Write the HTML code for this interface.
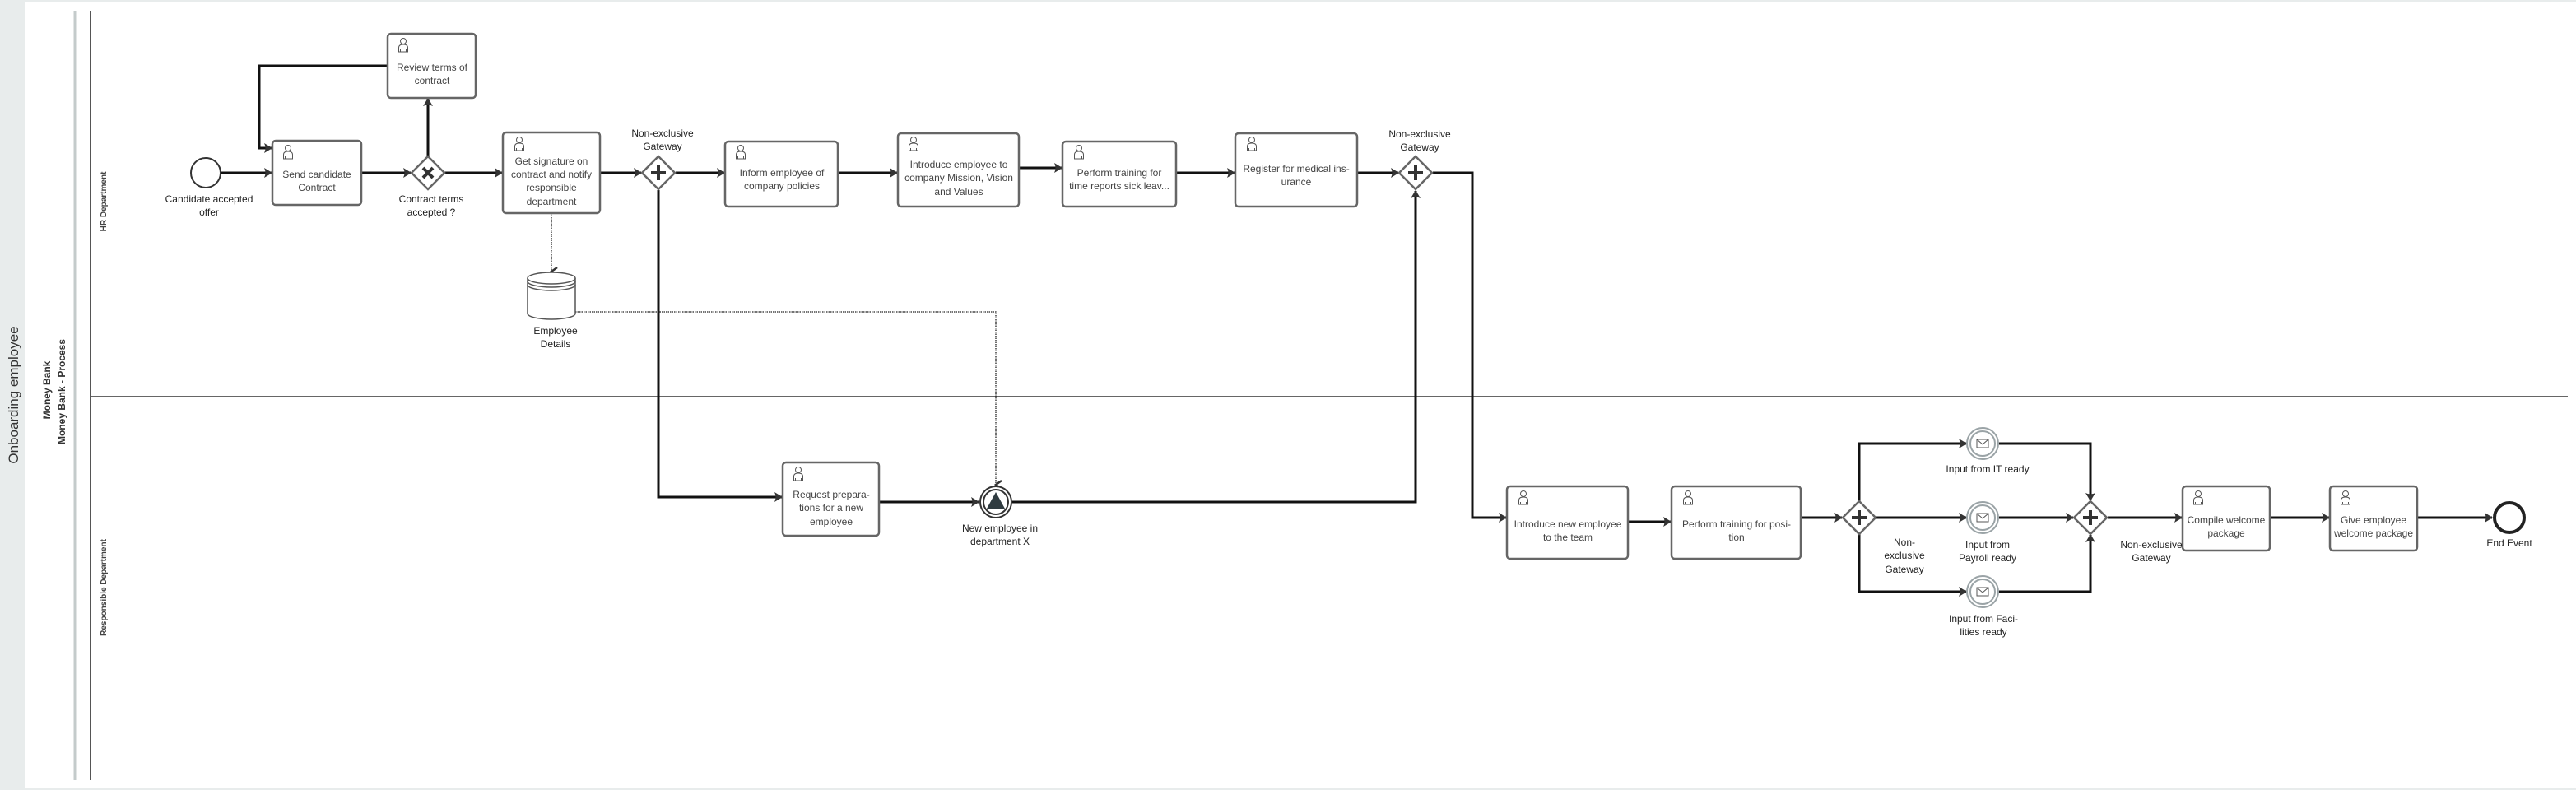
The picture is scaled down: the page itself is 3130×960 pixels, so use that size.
<!DOCTYPE html>
<html><head><meta charset="utf-8"><style>
html,body{margin:0;padding:0;background:#e8ecec;}
svg{display:block;}
text{font-family:"Liberation Sans Narrow","Liberation Sans",sans-serif;font-size:12px;fill:#222;}
.t{fill:#444;}
</style></head><body>
<svg width="3130" height="960" viewBox="0 0 3130 960" xmlns="http://www.w3.org/2000/svg">
<defs>
<marker id="a" markerWidth="10" markerHeight="12" refX="9" refY="6" orient="auto" markerUnits="userSpaceOnUse">
<path d="M0,0 L10,6 L0,12 Q3,6 0,0Z" fill="#333"/></marker>
<marker id="d" markerWidth="12" markerHeight="10" refX="6" refY="8" orient="auto" markerUnits="userSpaceOnUse">
<path d="M1,1 L6,8 L11,1" fill="none" stroke="#333" stroke-width="2.5"/></marker>
<g id="u"><circle cx="6" cy="4" r="3.5" fill="#fff" stroke="#555" stroke-width="1"/><path d="M0.5,17 V12 Q0.5,8 6,8 Q11.5,8 11.5,12 V17 Z M2.5,14 V17 M9.5,14 V17" fill="#fff" stroke="#555" stroke-width="1"/></g>
</defs>
<rect x="30" y="3" width="3100" height="954" fill="#fff"/>
<text transform="translate(22,480) rotate(-90)" text-anchor="middle" style="font-family:'Liberation Sans',sans-serif;font-size:17px;fill:#333">Onboarding employee</text>
<text transform="translate(61,474) rotate(-90)" text-anchor="middle" style="font-family:'Liberation Sans',sans-serif;font-size:12px;font-weight:bold;fill:#333">Money Bank</text>
<text transform="translate(79,476) rotate(-90)" text-anchor="middle" style="font-family:'Liberation Sans',sans-serif;font-size:12px;font-weight:bold;fill:#333">Money Bank - Process</text>
<text transform="translate(129,245) rotate(-90)" text-anchor="middle" style="font-family:'Liberation Sans',sans-serif;font-size:10px;font-weight:bold;fill:#444">HR Department</text>
<text transform="translate(129,714) rotate(-90)" text-anchor="middle" style="font-family:'Liberation Sans',sans-serif;font-size:10px;font-weight:bold;fill:#444">Responsible Department</text>
<line x1="91" y1="13" x2="91" y2="948" stroke="#c4cbcb" stroke-width="3"/>
<line x1="110" y1="13" x2="110" y2="948" stroke="#555" stroke-width="2"/>
<line x1="110" y1="482" x2="3120" y2="482" stroke="#666" stroke-width="2"/>

<g fill="none" stroke="#111" stroke-width="3">
<path d="M269,210 H330" marker-end="url(#a)"/>
<path d="M439,210 H499" marker-end="url(#a)"/>
<path d="M520,190 V120" marker-end="url(#a)"/>
<path d="M471,80 H315 V180 H330" marker-end="url(#a)"/>
<path d="M540,210 H610" marker-end="url(#a)"/>
<path d="M729,210 H779" marker-end="url(#a)"/>
<path d="M821,210 H880" marker-end="url(#a)"/>
<path d="M1018,210 H1090" marker-end="url(#a)"/>
<path d="M1238,204 H1290" marker-end="url(#a)"/>
<path d="M1429,210 H1500" marker-end="url(#a)"/>
<path d="M1649,210 H1699" marker-end="url(#a)"/>
<path d="M800,231 V604 H950" marker-end="url(#a)"/>
<path d="M1068,610 H1189" marker-end="url(#a)"/>
<path d="M1230,610 H1720 V232" marker-end="url(#a)"/>
<path d="M1741,210 H1789 V629 H1830" marker-end="url(#a)"/>
<path d="M1978,634 H2030" marker-end="url(#a)"/>
<path d="M2188,629 H2238" marker-end="url(#a)"/>
<path d="M2259,609 V539 H2389" marker-end="url(#a)"/>
<path d="M2280,629 H2389" marker-end="url(#a)"/>
<path d="M2259,649 V719 H2389" marker-end="url(#a)"/>
<path d="M2429,539 H2540 V608" marker-end="url(#a)"/>
<path d="M2429,629 H2519" marker-end="url(#a)"/>
<path d="M2429,719 H2540 V650" marker-end="url(#a)"/>
<path d="M2561,629 H2651" marker-end="url(#a)"/>
<path d="M2758,629 H2830" marker-end="url(#a)"/>
<path d="M2937,629 H3028" marker-end="url(#a)"/>
</g>
<g fill="none" stroke="#222" stroke-width="1.3" stroke-dasharray="1.5,1">
<path d="M670,259 V330" marker-end="url(#d)"/>
<path d="M699,379 H1210 V589" marker-end="url(#d)"/>
</g>

<g fill="#fff" stroke="#666" stroke-width="2.5">
<rect x="331" y="171" width="108" height="78" rx="4"/>
<rect x="471" y="41" width="107" height="78" rx="4"/>
<rect x="611" y="161" width="118" height="98" rx="4"/>
<rect x="881" y="172" width="137" height="79" rx="4"/>
<rect x="1091" y="162" width="147" height="89" rx="4"/>
<rect x="1291" y="172" width="138" height="79" rx="4"/>
<rect x="1501" y="162" width="148" height="89" rx="4"/>
<rect x="951" y="562" width="117" height="89" rx="4"/>
<rect x="1831" y="591" width="147" height="88" rx="4"/>
<rect x="2031" y="591" width="157" height="88" rx="4"/>
<rect x="2652" y="591" width="106" height="78" rx="4"/>
<rect x="2831" y="591" width="106" height="78" rx="4"/>
</g>
<use href="#u" x="344" y="176"/><use href="#u" x="484" y="46"/><use href="#u" x="625" y="166"/>
<use href="#u" x="894" y="176"/><use href="#u" x="1104" y="166"/><use href="#u" x="1305" y="176"/>
<use href="#u" x="1515" y="166"/><use href="#u" x="964" y="567"/><use href="#u" x="1845" y="596"/>
<use href="#u" x="2045" y="596"/><use href="#u" x="2665" y="596"/><use href="#u" x="2844" y="596"/>

<g text-anchor="middle" class="t">
<text class="t" x="385" y="216">Send candidate</text><text class="t" x="385" y="232">Contract</text>
<text class="t" x="525" y="86">Review terms of</text><text class="t" x="525" y="102">contract</text>
<text class="t" x="670" y="200">Get signature on</text><text class="t" x="670" y="216">contract and notify</text><text class="t" x="670" y="232">responsible</text><text class="t" x="670" y="249">department</text>
<text class="t" x="950" y="214">Inform employee of</text><text class="t" x="950" y="230">company policies</text>
<text class="t" x="1165" y="204">Introduce employee to</text><text class="t" x="1165" y="220">company Mission, Vision</text><text class="t" x="1165" y="237">and Values</text>
<text class="t" x="1360" y="214">Perform training for</text><text class="t" x="1360" y="230">time reports sick leav...</text>
<text class="t" x="1575" y="209">Register for medical ins-</text><text class="t" x="1575" y="225">urance</text>
<text class="t" x="1010" y="605">Request prepara-</text><text class="t" x="1010" y="621">tions for a new</text><text class="t" x="1010" y="638">employee</text>
<text class="t" x="1905" y="641">Introduce new employee</text><text class="t" x="1905" y="657">to the team</text>
<text class="t" x="2110" y="641">Perform training for posi-</text><text class="t" x="2110" y="657">tion</text>
<text class="t" x="2705" y="636">Compile welcome</text><text class="t" x="2705" y="652">package</text>
<text class="t" x="2884" y="636">Give employee</text><text class="t" x="2884" y="652">welcome package</text>
</g>

<circle cx="250" cy="210" r="18" fill="#fff" stroke="#333" stroke-width="2"/>
<circle cx="1210" cy="610" r="19" fill="#fff" stroke="#333" stroke-width="2"/>
<circle cx="1210" cy="610" r="15" fill="#fff" stroke="#333" stroke-width="2"/>
<path d="M1210,598 L1221,618 H1199 Z" fill="#2f3b40"/>
<g>
<circle cx="2409" cy="539" r="19" fill="#fff" stroke="#9aa3a6" stroke-width="2"/><circle cx="2409" cy="539" r="15" fill="#fff" stroke="#9aa3a6" stroke-width="2"/>
<rect x="2402" y="534" width="14" height="10" fill="#fff" stroke="#555" stroke-width="1"/><path d="M2402,534 L2409,540 L2416,534" fill="none" stroke="#555" stroke-width="1"/>
<circle cx="2409" cy="629" r="19" fill="#fff" stroke="#9aa3a6" stroke-width="2"/><circle cx="2409" cy="629" r="15" fill="#fff" stroke="#9aa3a6" stroke-width="2"/>
<rect x="2402" y="624" width="14" height="10" fill="#fff" stroke="#555" stroke-width="1"/><path d="M2402,624 L2409,630 L2416,624" fill="none" stroke="#555" stroke-width="1"/>
<circle cx="2409" cy="719" r="19" fill="#fff" stroke="#9aa3a6" stroke-width="2"/><circle cx="2409" cy="719" r="15" fill="#fff" stroke="#9aa3a6" stroke-width="2"/>
<rect x="2402" y="714" width="14" height="10" fill="#fff" stroke="#555" stroke-width="1"/><path d="M2402,714 L2409,720 L2416,714" fill="none" stroke="#555" stroke-width="1"/>
</g>
<circle cx="3049" cy="629" r="18" fill="#fff" stroke="#222" stroke-width="4"/>

<g fill="#fff" stroke="#666" stroke-width="2.5">
<path d="M520,190 L540,210 L520,230 L500,210Z"/>
<path d="M800,190 L820,210 L800,230 L780,210Z"/>
<path d="M1720,190 L1740,210 L1720,230 L1700,210Z"/>
<path d="M2259,609 L2279,629 L2259,649 L2239,629Z"/>
<path d="M2540,609 L2560,629 L2540,649 L2520,629Z"/>
</g>
<g stroke="#333" stroke-width="4">
<path d="M514,204 L526,216 M526,204 L514,216"/>
<path d="M800,201 V219 M791,210 H809"/>
<path d="M1720,201 V219 M1711,210 H1729"/>
<path d="M2259,620 V638 M2250,629 H2268"/>
<path d="M2540,620 V638 M2531,629 H2549"/>
</g>

<g fill="#fff" stroke="#555" stroke-width="1.5">
<path d="M641,338 V381 A29,7 0 0 0 699,381 V338"/>
<ellipse cx="670" cy="338" rx="29" ry="7"/>
<path d="M641,342 A29,7 0 0 0 699,342 M641,346 A29,7 0 0 0 699,346" fill="none"/>
</g>

<g text-anchor="middle">
<text x="254" y="246">Candidate accepted</text><text x="254" y="262">offer</text>
<text x="524" y="246">Contract terms</text><text x="524" y="262">accepted ?</text>
<text x="805" y="166">Non-exclusive</text><text x="805" y="182">Gateway</text>
<text x="675" y="406">Employee</text><text x="675" y="422">Details</text>
<text x="1725" y="167">Non-exclusive</text><text x="1725" y="183">Gateway</text>
<text x="1215" y="646">New employee in</text><text x="1215" y="662">department X</text>
<text x="2314" y="663">Non-</text><text x="2314" y="679">exclusive</text><text x="2314" y="696">Gateway</text>
<text x="2415" y="574">Input from IT ready</text>
<text x="2415" y="666">Input from</text><text x="2415" y="682">Payroll ready</text>
<text x="2410" y="756">Input from Faci-</text><text x="2410" y="772">lities ready</text>
<text x="2614" y="666">Non-exclusive</text><text x="2614" y="682">Gateway</text>
<text x="3049" y="664">End Event</text>
</g>
</svg>
</body></html>
